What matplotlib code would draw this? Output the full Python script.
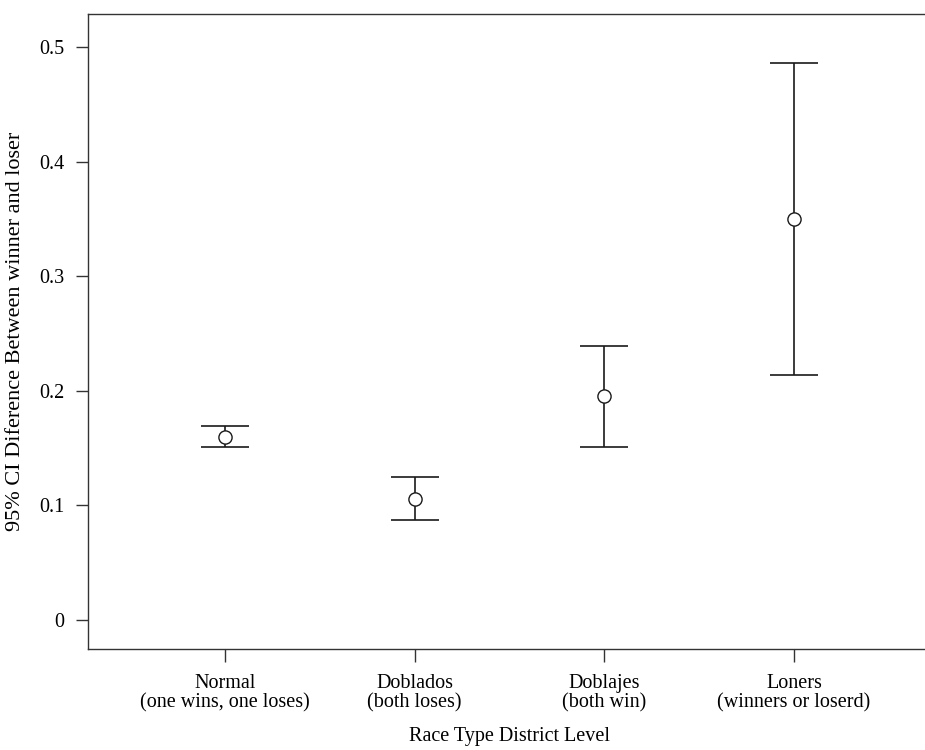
import matplotlib
matplotlib.use("Agg")
import matplotlib.pyplot as plt
import numpy as np

categories = ["Normal\n(one wins, one loses)", "Doblados\n(both loses)",
              "Doblajes\n(both win)", "Loners\n(winners or loserd)"]
means = [0.160, 0.1056, 0.1955, 0.350]
lower = [0.151, 0.0875, 0.1507, 0.214]
upper = [0.1695, 0.1248, 0.239, 0.486]
yticks = [0, 0.1, 0.2, 0.3, 0.4, 0.5]
ytick_labels = ["0", "0.1", "0.2", "0.3", "0.4", "0.5"]

plt.rcParams['font.family'] = ['Liberation Serif', 'DejaVu Serif']

fig = plt.figure(figsize=(9.25, 7.5), dpi=100)
ax = fig.add_axes([88/925, 1-649/750, (931-88)/925, (649-14)/750])

x = np.arange(1, len(means)+1)
m = np.array(means)
err = np.vstack([m - np.array(lower), np.array(upper) - m])
ax.errorbar(x, m, yerr=err, fmt='none', ecolor='#1a1a1a', elinewidth=1.2,
            capsize=24*0.72, capthick=1.2)
ax.plot(x, m, 'o', mfc='white', mec='#1a1a1a', mew=1.0, ms=9.5, linestyle='none', zorder=3)

ax.set_xlim(0.278, 4.722)
ax.set_ylim(-0.0253, 0.5288)
ax.set_xticks(x)
ax.set_xticklabels(categories, fontsize=14.5, linespacing=1.05)
ax.set_yticks(yticks)
ax.set_yticklabels(ytick_labels, fontsize=14.5)
ax.tick_params(axis='y', length=9, width=1, pad=8, color='#333333')
ax.tick_params(axis='x', length=9, width=1, pad=9, color='#333333')
for s in ax.spines.values():
    s.set_linewidth(1.0)
    s.set_color('#333333')

ax.set_xlabel("Race Type District Level", fontsize=14.5, labelpad=10)
ax.set_ylabel("95% CI Diference Between winner and loser", fontsize=16, labelpad=10)

fig.savefig("out.png", dpi=100)
